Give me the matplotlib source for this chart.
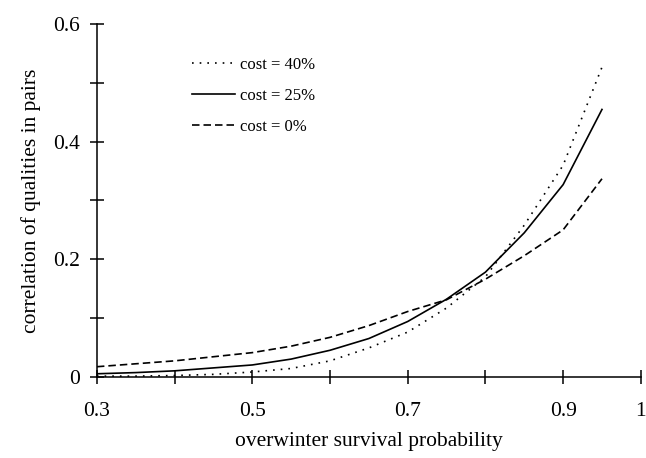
import numpy as np
import matplotlib
matplotlib.use("Agg")
import matplotlib.pyplot as plt

plt.rcParams['font.family'] = ['Liberation Serif', 'DejaVu Serif']

# overwinter survival probability
survival = [0.30, 0.35, 0.40, 0.45, 0.50, 0.55, 0.60, 0.65, 0.70, 0.75, 0.80, 0.85, 0.90, 0.95]

# correlation of qualities in pairs, one series per cost level
corr_cost40 = [0.001, 0.001, 0.002, 0.004, 0.008, 0.014, 0.027, 0.049, 0.076, 0.117, 0.170, 0.258, 0.360, 0.527]
corr_cost25 = [0.005, 0.007, 0.010, 0.015, 0.020, 0.030, 0.045, 0.065, 0.094, 0.132, 0.178, 0.245, 0.327, 0.455]
corr_cost0 = [0.017, 0.022, 0.027, 0.034, 0.041, 0.052, 0.067, 0.087, 0.111, 0.131, 0.166, 0.206, 0.250, 0.337]

x_ticks = [0.3, 0.4, 0.5, 0.6, 0.7, 0.8, 0.9, 1.0]
x_ticklabels = ["0.3", "", "0.5", "", "0.7", "", "0.9", "1"]
y_ticks = [0.0, 0.1, 0.2, 0.3, 0.4, 0.5, 0.6]
y_ticklabels = ["0", "", "0.2", "", "0.4", "", "0.6"]

fig = plt.figure(figsize=(6.46, 4.58), dpi=100)
ax = fig.add_axes([0.150, 0.1775, 0.842, 0.7695])

ax.plot(survival, corr_cost40, color='black', lw=1.2, linestyle=(0, (1, 3.6)), label='cost = 40%')
ax.plot(survival, corr_cost25, color='black', lw=1.2, label='cost = 25%')
ax.plot(survival, corr_cost0, color='black', lw=1.2, linestyle=(0, (4.5, 2.4)), label='cost = 0%')

ax.set_xlim(0.3, 1.0)
ax.set_ylim(0.0, 0.6)
ax.set_xticks(x_ticks)
ax.set_xticklabels(x_ticklabels)
ax.set_yticks(y_ticks)
ax.set_yticklabels(y_ticklabels)
ax.tick_params(direction='inout', length=10, width=1.1, labelsize=15.5, color='black')
ax.tick_params(axis='x', pad=13)
ax.tick_params(axis='y', pad=7)

for side in ('top', 'right'):
    ax.spines[side].set_visible(False)
for side in ('left', 'bottom'):
    ax.spines[side].set_linewidth(1.1)
ax.spines['left'].set_bounds(0.0, 0.6)
ax.spines['bottom'].set_bounds(0.3, 1.0)

ax.set_xlabel('overwinter survival probability', fontsize=15.5, labelpad=8)
ax.set_ylabel('correlation of qualities in pairs', fontsize=15.5, labelpad=9)

ax.legend(loc='upper left', bbox_to_anchor=(192 / 646, 1 - 57 / 458),
          bbox_transform=fig.transFigure, frameon=False, fontsize=12,
          handlelength=2.6, handletextpad=0.25, labelspacing=0.9,
          borderpad=0, borderaxespad=0)

fig.savefig('out.png', dpi=100)
